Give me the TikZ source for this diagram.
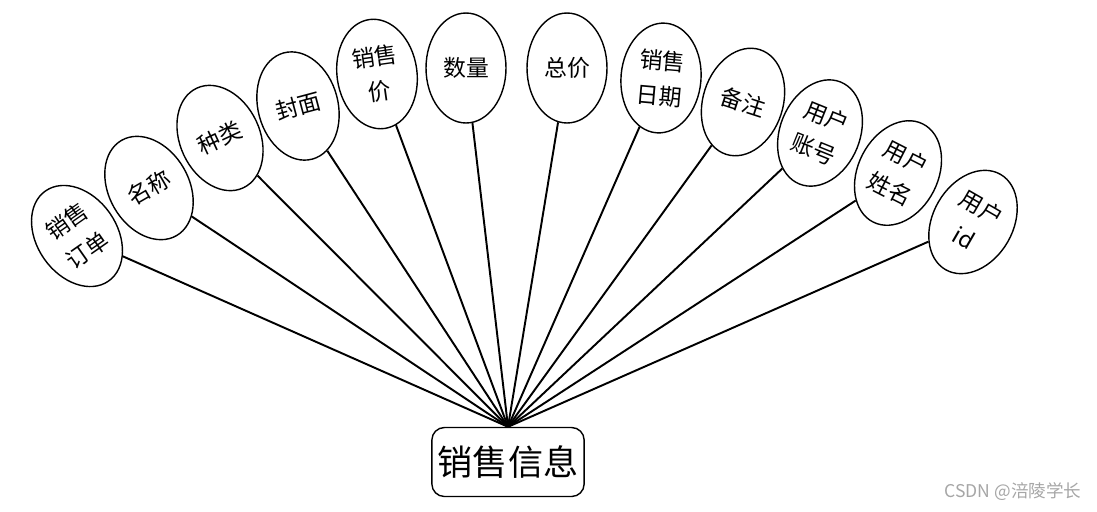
\documentclass[tikz,border=0pt]{standalone}
\usepackage{fontspec}
\newfontfamily\cjk{Noto Sans CJK SC}
\usetikzlibrary{shapes.geometric}

\begin{document}
\begin{tikzpicture}[x=0.02cm,y=0.02cm,
  attr/.style={draw, ellipse, line width=0.8pt, minimum width=1.6cm, minimum height=2.2cm,
    inner sep=0pt, align=center, font=\cjk\fontsize{13}{20}\selectfont},
  ent/.style={draw, rounded corners=0.25cm, line width=0.8pt, minimum width=2.98cm,
    minimum height=1.38cm, font=\cjk\fontsize{20}{24}\selectfont},
  link/.style={line width=1.1pt}]

% Cadre
\useasboundingbox (0,0) rectangle (1097,-511);

% Entite
\node[ent] (info) at (508,-462) {销售信息};

% Attributs
\node[attr, rotate=35] (order)   at (77,-236)  {销售\\订单};
\node[attr, rotate=30] (name)    at (149,-188) {名称};
\node[attr, rotate=25] (kind)    at (220,-138) {种类};
\node[attr, rotate=15] (cover)   at (298,-106) {封面};
\node[attr, rotate=8]  (price)   at (377,-74)  {销售\\价};
\node[attr]            (qty)     at (466,-68)  {数量};
\node[attr]            (total)   at (567,-68)  {总价};
\node[attr, rotate=-5] (date)    at (661,-78)  {销售\\日期};
\node[attr, rotate=-18](note)    at (743,-102) {备注};
\node[attr, rotate=-22](account) at (820,-133) {用户\\账号};
\node[attr, rotate=-27](uname)   at (898,-173) {用户\\姓名};
\node[attr, rotate=-30](uid)     at (973,-222) {用户\\id};

% Liens
\draw[link] (info.north) -- (order);
\draw[link] (info.north) -- (name);
\draw[link] (info.north) -- (kind);
\draw[link] (info.north) -- (cover);
\draw[link] (info.north) -- (price);
\draw[link] (info.north) -- (qty);
\draw[link] (info.north) -- (total);
\draw[link] (info.north) -- (date);
\draw[link] (info.north) -- (note);
\draw[link] (info.north) -- (account);
\draw[link] (info.north) -- (uname);
\draw[link] (info.north) -- (uid);

% Filigrane
\node[gray!70, font=\cjk\fontsize{10}{12}\selectfont] (mark) at (1013,-492) {CSDN @涪陵学长};

\end{tikzpicture}
\end{document}
